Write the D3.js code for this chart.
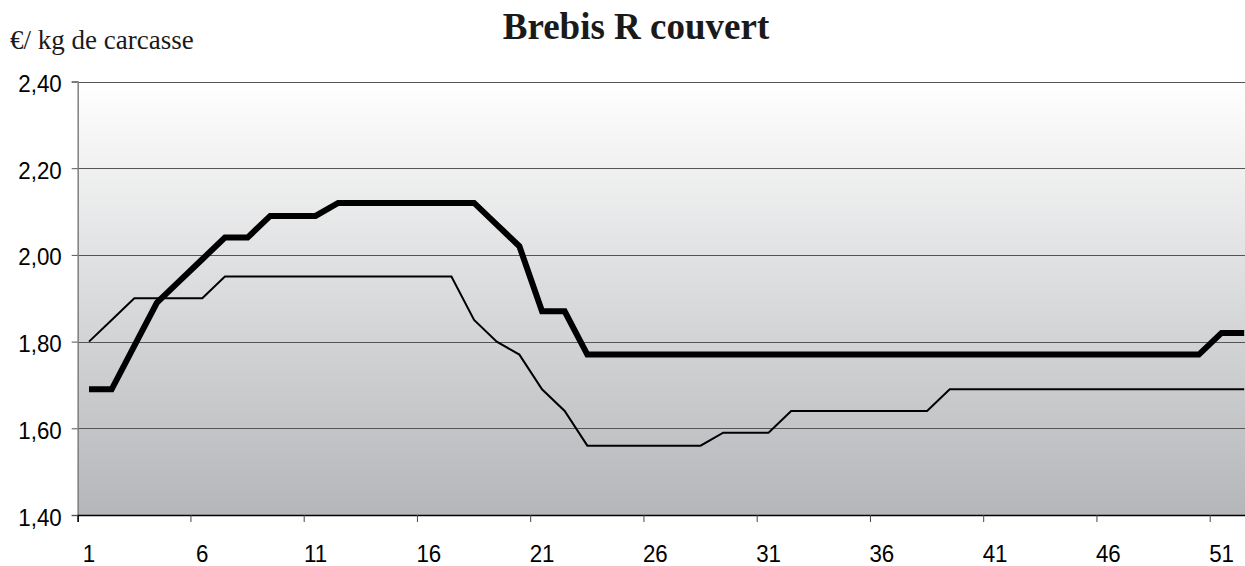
<!DOCTYPE html>
<html>
<head>
<meta charset="utf-8">
<script src="https://cdn.jsdelivr.net/npm/d3@7"></script>
<style>
  body { margin: 0; background: #fff; }
  svg { display: block; }
</style>
</head>
<body>
<div id="chart"></div>
<script>
// weeks 1..52
const weeks = d3.range(1, 53);
const xTickLabels = [1, 6, 11, 16, 21, 26, 31, 36, 41, 46, 51];
const yTicks = [1.4, 1.6, 1.8, 2.0, 2.2, 2.4];

// thick series
const seriesThick = [
  1.69, 1.69, 1.79, 1.89, 1.94, 1.99, 2.04, 2.04, 2.09, 2.09,
  2.09, 2.12, 2.12, 2.12, 2.12, 2.12, 2.12, 2.12, 2.07, 2.02,
  1.87, 1.87, 1.77, 1.77, 1.77, 1.77, 1.77, 1.77, 1.77, 1.77,
  1.77, 1.77, 1.77, 1.77, 1.77, 1.77, 1.77, 1.77, 1.77, 1.77,
  1.77, 1.77, 1.77, 1.77, 1.77, 1.77, 1.77, 1.77, 1.77, 1.77,
  1.82, 1.82
];
// thin series
const seriesThin = [
  1.80, 1.85, 1.90, 1.90, 1.90, 1.90, 1.95, 1.95, 1.95, 1.95,
  1.95, 1.95, 1.95, 1.95, 1.95, 1.95, 1.95, 1.85, 1.80, 1.77,
  1.69, 1.64, 1.56, 1.56, 1.56, 1.56, 1.56, 1.56, 1.59, 1.59,
  1.59, 1.64, 1.64, 1.64, 1.64, 1.64, 1.64, 1.64, 1.69, 1.69,
  1.69, 1.69, 1.69, 1.69, 1.69, 1.69, 1.69, 1.69, 1.69, 1.69,
  1.69, 1.69
];

const width = 1245, height = 566;
const margin = {top: 81.5, left: 77.7, bottom: 51};
const bandW = 22.65;
const LABEL_FONT = "'Liberation Sans', Arial, sans-serif";
const SQUEEZE = 0.93; // tick labels look slightly condensed

const x = d3.scaleBand()
    .domain(weeks)
    .range([margin.left, margin.left + weeks.length * bandW])
    .paddingInner(0).paddingOuter(0);

const y = d3.scaleLinear()
    .domain([1.4, 2.4])
    .range([height - margin.bottom, margin.top]);

const svg = d3.select("#chart").append("svg")
    .attr("width", width)
    .attr("height", height)
    .attr("viewBox", [0, 0, width, height]);

const defs = svg.append("defs");
const grad = defs.append("linearGradient")
    .attr("id", "bg").attr("x1", 0).attr("y1", 0).attr("x2", 0).attr("y2", 1);
grad.append("stop").attr("offset", "0%").attr("stop-color", "#ffffff");
grad.append("stop").attr("offset", "100%").attr("stop-color", "#b4b6b9");

const plotRight = x.range()[1];

svg.append("rect")
    .attr("x", margin.left)
    .attr("y", y(2.4))
    .attr("width", plotRight - margin.left)
    .attr("height", y(1.4) - y(2.4))
    .attr("fill", "url(#bg)");

// gridlines
svg.append("g")
    .selectAll("line")
    .data(yTicks.filter(d => d > 1.4))
    .join("line")
      .attr("x1", margin.left).attr("x2", plotRight)
      .attr("y1", d => Math.round(y(d)) + 0.5).attr("y2", d => Math.round(y(d)) + 0.5)
      .attr("stroke", "#555")
      .attr("stroke-width", 1.2);

// squeeze a tick label horizontally around its own x anchor
function squeeze(sel) {
  sel.each(function() {
    const t = d3.select(this);
    const tx = +t.attr("x") || 0;
    t.attr("x", 0).attr("transform", `translate(${tx},0) scale(${SQUEEZE},1)`);
  });
}

// y axis
const yAxis = g => g
    .attr("transform", `translate(${margin.left},0)`)
    .call(d3.axisLeft(y).tickValues(yTicks).tickSize(6).tickPadding(10)
        .tickFormat(d => d3.format(".2f")(d).replace(".", ",")))
    .call(g => g.select(".domain").attr("stroke", "#808080").attr("stroke-width", 1.5))
    .call(g => g.selectAll(".tick line").attr("stroke", "#555"))
    .call(g => g.selectAll(".tick text")
        .attr("fill", "#000")
        .attr("dy", "0.42em")
        .style("font-family", LABEL_FONT)
        .style("font-size", "24px")
        .call(squeeze));

svg.append("g").call(yAxis);

// x axis (ticks sit on category boundaries, labels in the middle)
const xAxis = g => g
    .attr("transform", `translate(0,${y(1.4)})`)
    .call(d3.axisBottom(x).tickValues(xTickLabels).tickSize(7).tickPadding(23))
    .call(g => g.select(".domain").attr("stroke", "#000").attr("stroke-width", 1.5))
    .call(g => g.selectAll(".tick line")
        .attr("transform", `translate(${-bandW / 2},0)`)
        .attr("stroke", "#444"))
    .call(g => g.selectAll(".tick text")
        .attr("fill", "#000")
        .style("font-family", LABEL_FONT)
        .style("font-size", "24px")
        .call(squeeze));

svg.append("g").call(xAxis);

const line = d3.line()
    .x((d, i) => x(weeks[i]) + x.bandwidth() / 2)
    .y(d => y(d));

svg.append("path")
    .datum(seriesThin)
    .attr("fill", "none")
    .attr("stroke", "#000")
    .attr("stroke-width", 2)
    .attr("d", line);

svg.append("path")
    .datum(seriesThick)
    .attr("fill", "none")
    .attr("stroke", "#000")
    .attr("stroke-width", 6)
    .attr("stroke-linejoin", "miter")
    .attr("d", line);

// title
svg.append("text")
    .attr("x", 636)
    .attr("y", 39)
    .attr("text-anchor", "middle")
    .attr("fill", "#1a1a1a")
    .style("font-family", "'Liberation Serif', 'Times New Roman', serif")
    .style("font-weight", "bold")
    .style("font-size", "37px")
    .text("Brebis R couvert");

svg.append("text")
    .attr("x", 10)
    .attr("y", 49)
    .attr("fill", "#1a1a1a")
    .style("font-family", "'Liberation Serif', 'Times New Roman', serif")
    .style("font-size", "27px")
    .text("€/ kg de carcasse");
</script>
</body>
</html>
